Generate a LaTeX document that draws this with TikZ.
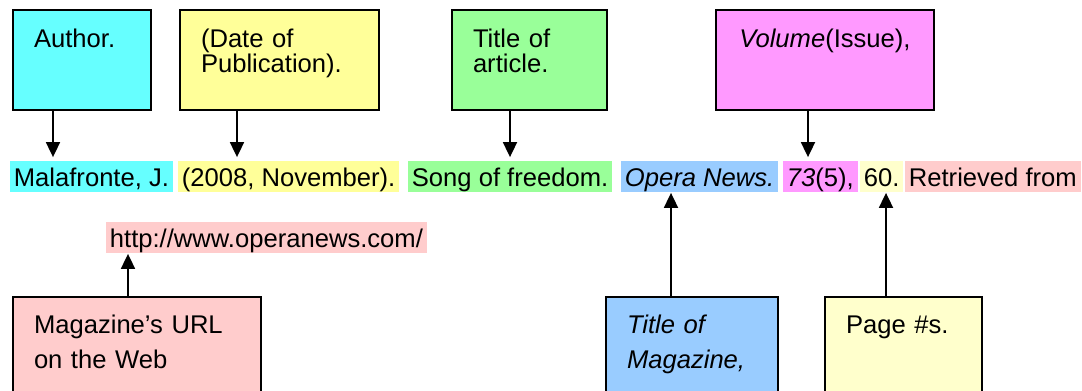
\documentclass[tikz,border=0pt]{standalone}
\usepackage{fontspec}
\setmainfont{Liberation Sans}
\usepackage{tikz}
\usetikzlibrary{arrows.meta}

\definecolor{authcol}{HTML}{66FFFF}
\definecolor{datecol}{HTML}{FFFF99}
\definecolor{titlecol}{HTML}{99FF99}
\definecolor{volcol}{HTML}{FF99FF}
\definecolor{magcol}{HTML}{99CCFF}
\definecolor{pagecol}{HTML}{FFFFCC}
\definecolor{urlcol}{HTML}{FFCCCC}

\begin{document}
\begin{tikzpicture}[x=0.5pt,y=-0.5pt,->,>={Triangle[length=7.5pt,width=7pt]},
            line width=0.9pt,font=\fontsize{12.8}{12.5}\selectfont,
            box/.style={draw,line width=1pt,anchor=north west,align=left,
              inner xsep=10.5pt,inner ysep=0pt,text height=18.5pt,text depth=31.5pt},
            lowbox/.style={box,font=\fontsize{12.8}{17.5}\selectfont,
              text height=18pt,text depth=34pt},
            hl/.style={fill=#1,anchor=base west,inner xsep=2pt,inner ysep=0pt,
              text height=12.5pt,text depth=3pt}]

          \useasboundingbox (0,0) rectangle (1082,391);

          % boxes above the reference
          \node[box,fill=authcol,text width=48pt]   (author) at ( 12, 9) {Author.};
          \node[box,fill=datecol,text width=78.5pt] (date)   at (179, 9) {(Date of\\Publication).};
          \node[box,fill=titlecol,text width=56.5pt](title)  at (451, 9) {Title of\\article.};
          \node[box,fill=volcol,text width=88pt,align=center]
                                                    (volume) at (715, 9) {\textit{Volume}(Issue),};

          % the reference itself
          \node[hl=authcol]  (name)  at (  9,186) {Malafronte, J.};
          \node[hl=datecol]  (year)  at (177,186) {(2008, November).};
          \node[hl=titlecol] (song)  at (407,186) {Song of freedom.};
          \node[hl=magcol]   (opera) at (620,186) {\textit{Opera News.}};
          \node[hl=volcol]   (issue) at (782,186) {\textit{73}(5),};
          \node[hl=pagecol]  (pp)    at (859,186) {60.};
          \node[hl=urlcol]   (retr)  at (904,186) {Retrieved from};
          \node[hl=urlcol]   (url)   at (105,247) {http://www.operanews.com/};

          % boxes below the reference
          \node[lowbox,fill=urlcol,text width=103pt] (web)   at ( 12,296) {Magazine’s URL\\on the Web};
          \node[lowbox,fill=magcol,text width=65pt]  (mag)   at (605,296) {\textit{Title of}\\\textit{Magazine,}};
          \node[lowbox,fill=pagecol,text width=57.5pt](pages) at (824,296) {Page \#s.};

          \path[shorten >=1.5pt]
                (author.south -| 53,0)  edge (name.north -| 53,0)
                (date.south -| 237,0)   edge (year.north -| 237,0)
                (title.south -| 510,0)  edge (song.north -| 510,0)
                (volume.south -| 808,0) edge (issue.north -| 808,0);
          \path (web.north -| 128,0)   edge (url.south -| 128,0)
                (mag.north -| 671,0)   edge (opera.south -| 671,0)
                (pages.north -| 886,0) edge (pp.south -| 886,0);
        \end{tikzpicture}
\end{document}
